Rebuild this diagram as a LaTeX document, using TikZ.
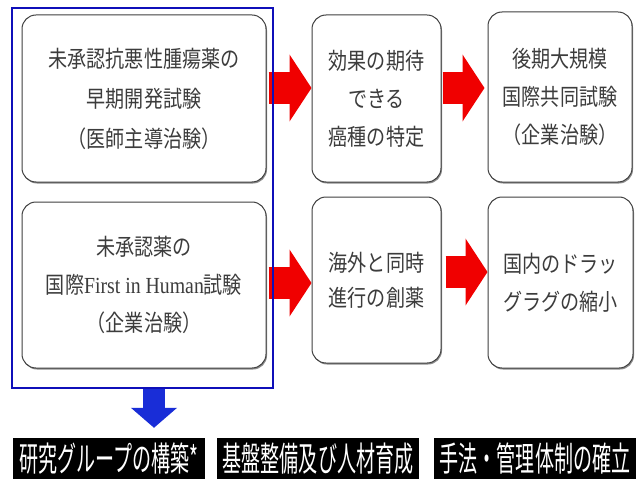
\documentclass[tikz,border=0pt]{standalone}
\usepackage{fontspec}
\setmainfont{Liberation Serif}
\newfontfamily\jp[FakeStretch=0.83]{Noto Sans CJK JP}
\newfontfamily\lat[FakeStretch=0.86]{Liberation Serif}
\newfontfamily\jplab[FakeStretch=0.56]{Noto Sans CJK JP}
\usetikzlibrary{arrows.meta,shadows,calc}
\definecolor{arrred}{RGB}{240,0,0}
\definecolor{arrblue}{RGB}{25,45,215}
\definecolor{framblue}{RGB}{15,15,185}
\definecolor{txt}{RGB}{60,60,60}
\begin{document}
\begin{tikzpicture}[x=1pt,y=-1pt,
  box/.style={draw=black!75, line width=1pt, rounded corners=14pt, fill=white,
    align=center, font=\jp\fontsize{23}{38}\selectfont, text=txt, inner sep=0pt,
    drop shadow={shadow xshift=1pt,shadow yshift=-1.5pt,fill=black!45,opacity=1}},
  fat/.style={arrred, line width=32pt, -{Triangle[length=22pt,width=66pt]}},
  bluearr/.style={arrblue, line width=22pt, -{Triangle[length=20pt,width=45pt]}},
  lab/.style={fill=black, text=white, font=\jplab\fontsize{34}{34}\selectfont,
    minimum height=41pt, inner sep=0pt}]
\useasboundingbox (0,0) rectangle (636,481);
\fill[white] (0,0) rectangle (636,481);

\node[box, minimum width=244pt, minimum height=167pt] (TL) at (144,98.5)
  {未承認抗悪性腫瘍薬の\\[2pt]早期開発試験\\[2pt]（医師主導治験）};
\node[box, minimum width=244pt, minimum height=166pt] (BL) at (144,285)
  {未承認薬の\\国際{\lat First in Human}試験\\（企業治験）};
\node[box, minimum width=129pt, minimum height=167pt] (TM) at (376.5,98.5)
  {効果の期待\\できる\\癌種の特定};
\node[box, minimum width=129pt, minimum height=166pt] (BM) at (376.5,280)
  {海外と同時\\[-3pt]進行の創薬};
\node[box, minimum width=144pt, minimum height=170pt] (TR) at (560,97)
  {後期大規模\\国際共同試験\\（企業治験）};
\node[box, minimum width=145pt, minimum height=171pt] (BR) at (560.5,282.5)
  {国内のドラッ\\グラグの縮小};

\coordinate (a1) at ($(TL.east)+(2,-10.5)$);
\draw[fat] (a1) -- (a1 -| TM.west);
\coordinate (a2) at ($(TM.east)+(1,-10.5)$);
\draw[fat, shorten >=3pt] (a2) -- (a2 -| TR.west);
\coordinate (a3) at ($(BL.east)+(2,-2)$);
\draw[fat] (a3) -- (a3 -| BM.west);
\coordinate (a4) at ($(BM.east)+(4,-8)$);
\draw[fat] (a4) -- (a4 -| BR.west);

\node[draw=framblue, line width=2pt, minimum width=261pt, minimum height=380pt,
  inner sep=0pt] (grp) at (142.5,198) {};

\node[lab, minimum width=192pt] (L1) at (109,458.5) {研究グループの構築*};
\node[lab, minimum width=202pt] (L2) at (318,458.5) {基盤整備及び人材育成};
\node[lab, minimum width=202pt] (L3) at (535,458.5) {手法・管理体制の確立};

\coordinate (bs) at ($(grp.south)+(11.5,0)$);
\draw[bluearr, shorten >=10pt] (bs) -- (bs |- L1.north);
\end{tikzpicture}
\end{document}
